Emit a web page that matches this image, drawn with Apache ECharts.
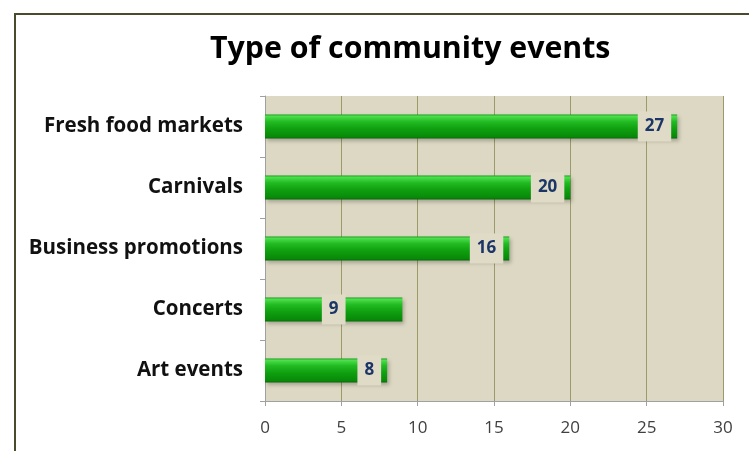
<!DOCTYPE html>
<html>
<head>
<meta charset="utf-8">
<script src="https://cdn.jsdelivr.net/npm/echarts@6/dist/echarts.min.js"></script>
<style>
  html, body { margin: 0; padding: 0; background: #ffffff; }
  #chart { width: 749px; height: 451px; }
</style>
</head>
<body>
<div id="chart"></div>
<script>
// Community event types and how many of each were held
const categories = ['Fresh food markets', 'Carnivals', 'Business promotions', 'Concerts', 'Art events'];
const counts = [27, 20, 16, 9, 8];
// Where each value label sits on its bar
const labelPlacement = ['insideRight', 'insideRight', 'insideRight', 'inside', 'insideRight'];
const tickValues = [0, 5, 10, 15, 20, 25, 30];

const chart = echarts.init(document.getElementById('chart'), null, { renderer: 'canvas' });

const barGradient = new echarts.graphic.LinearGradient(0, 0, 0, 1, [
  { offset: 0, color: '#1a9a1a' },
  { offset: 0.07, color: '#4ee04e' },
  { offset: 0.3, color: '#22bb22' },
  { offset: 0.6, color: '#0f9f0f' },
  { offset: 0.92, color: '#088a08' },
  { offset: 1, color: '#066a06' }
]);

chart.setOption({
  animation: false,
  graphic: [{
    type: 'rect',
    shape: { x: 15, y: 14, width: 800, height: 500 },
    style: { fill: 'none', stroke: '#4a4a2c', lineWidth: 2 },
    silent: true,
    z: -10
  }],
  title: {
    text: 'Type of community events',
    left: 205,
    top: 29,
    textStyle: {
      fontFamily: 'Open Sans',
      fontWeight: 'bold',
      fontSize: 30.3,
      color: '#000000'
    }
  },
  grid: {
    left: 265,
    right: 26,
    top: 96,
    bottom: 50,
    show: true,
    backgroundColor: '#ddd8c3',
    borderWidth: 0
  },
  xAxis: {
    type: 'value',
    min: 0,
    max: 30,
    interval: 5,
    axisLine: { show: true, lineStyle: { color: '#a0a0a0', width: 1 } },
    axisTick: { show: true, length: 5, lineStyle: { color: '#a0a0a0' } },
    splitLine: { show: true, lineStyle: { color: '#9a9a6a', width: 1 } },
    axisLabel: {
      margin: 19,
      fontFamily: 'Open Sans',
      fontSize: 17,
      color: '#404040',
      formatter: function (v) { return tickValues.indexOf(v) >= 0 ? String(v) : ''; }
    }
  },
  yAxis: {
    type: 'category',
    inverse: true,
    data: categories,
    axisLine: { show: true, lineStyle: { color: '#a0a0a0', width: 1 } },
    axisTick: { show: true, length: 5, alignWithLabel: false, lineStyle: { color: '#a0a0a0' } },
    axisLabel: {
      margin: 22,
      fontFamily: 'Open Sans',
      fontWeight: 'bold',
      fontSize: 20.5,
      color: '#111111',
      padding: [6, 0, 0, 0]
    }
  },
  series: [{
    type: 'bar',
    data: counts.map(function (v, i) {
      return { value: v, label: { position: labelPlacement[i] } };
    }),
    barWidth: 24,
    itemStyle: {
      color: barGradient,
      shadowColor: 'rgba(0,0,0,0.25)',
      shadowBlur: 4,
      shadowOffsetX: 2,
      shadowOffsetY: 2
    },
    label: {
      show: true,
      position: 'insideRight',
      distance: 6,
      fontFamily: 'Open Sans',
      fontWeight: 'bold',
      fontSize: 17,
      lineHeight: 18,
      color: '#1b3566',
      backgroundColor: '#e0dbc7',
      padding: [6, 7, 6, 7]
    }
  }]
});
</script>
</body>
</html>
